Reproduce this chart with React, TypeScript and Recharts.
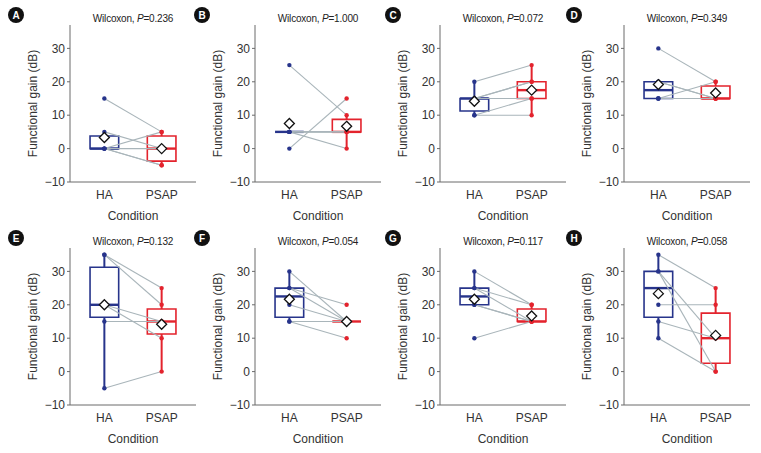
import React from 'react';
import { ComposedChart, Line, Scatter, XAxis, YAxis, ReferenceArea, ReferenceLine } from 'recharts';

const panelLetters = ['A', 'B', 'C', 'D', 'E', 'F', 'G', 'H'];
const pValues = ['0.236', '1.000', '0.072', '0.349', '0.132', '0.054', '0.117', '0.058'];
const categories = ['HA', 'PSAP'];
const yTicks = [-10, 0, 10, 20, 30];

// paired values, same index = same subject
const haValues = [
  [15, 5, 0, 0, 0, 0],
  [25, 0, 5, 5, 5, 5],
  [20, 15, 15, 15, 10, 10],
  [30, 20, 20, 15, 15, 15],
  [35, 35, 20, 20, 15, -5],
  [30, 25, 25, 20, 15, 15],
  [30, 25, 25, 20, 20, 10],
  [35, 30, 30, 20, 15, 10],
];
const psapValues = [
  [5, 0, 5, 0, -5, -5],
  [10, 15, 0, 5, 5, 5],
  [25, 20, 20, 15, 15, 10],
  [20, 15, 15, 20, 15, 15],
  [25, 20, 15, 10, 15, 0],
  [15, 20, 15, 15, 15, 10],
  [20, 20, 15, 15, 15, 15],
  [25, 0, 10, 20, 10, 0],
];

const HA_COLOR = '#27348b';
const PSAP_COLOR = '#e3232d';
const PAIR_COLOR = '#a9b5ba';
const AXIS_COLOR = '#6b6b6b';
const FONT = '"Liberation Sans", Arial, sans-serif';

const axisX = [70, 255, 440, 624];
const rowTop = [0, 223];
const letterX = [16, 202, 393, 574];

const quant = (s: number[], p: number) => {
  const pos = (s.length - 1) * p;
  const lo = Math.floor(pos);
  const hi = Math.min(lo + 1, s.length - 1);
  return s[lo] + (pos - lo) * (s[hi] - s[lo]);
};

function boxStats(vals: number[]) {
  const s = [...vals].sort((a, b) => a - b);
  const q1 = quant(s, 0.25);
  const med = quant(s, 0.5);
  const q3 = quant(s, 0.75);
  const iqr = q3 - q1;
  const lo = Math.min(...s.filter((v) => v >= q1 - 1.5 * iqr));
  const hi = Math.max(...s.filter((v) => v <= q3 + 1.5 * iqr));
  const mean = s.reduce((a, b) => a + b, 0) / s.length;
  return { q1, med, q3, lo, hi, mean };
}

const dotShape = (color: string) => (p: any) => <circle cx={p.cx} cy={p.cy} r={2.2} fill={color} />;
const diamondShape = (p: any) => (
  <polygon
    points={`${p.cx},${p.cy - 5} ${p.cx + 5},${p.cy} ${p.cx},${p.cy + 5} ${p.cx - 5},${p.cy}`}
    fill="#fff"
    stroke="#111"
    strokeWidth={1.3}
  />
);

const fmtY = (v: number) => (v < 0 ? '\u2212' + Math.abs(v) : String(v));

function boxParts(vals: number[], c: number, color: string, key: string) {
  const st = boxStats(vals);
  const out: React.ReactNode[] = [];
  if (st.q3 > st.q1) {
    out.push(
      <ReferenceArea key={key + 'box'} x1={c - 0.25} x2={c + 0.25} y1={st.q1} y2={st.q3}
        fill="none" fillOpacity={0} stroke={color} strokeWidth={1.6} strokeOpacity={1} />
    );
  }
  if (st.lo < st.q1) {
    out.push(
      <ReferenceLine key={key + 'wl'} segment={[{ x: c, y: st.lo }, { x: c, y: st.q1 }]} stroke={color} strokeWidth={2} />
    );
  }
  if (st.hi > st.q3) {
    out.push(
      <ReferenceLine key={key + 'wh'} segment={[{ x: c, y: st.q3 }, { x: c, y: st.hi }]} stroke={color} strokeWidth={2} />
    );
  }
  out.push(
    <ReferenceLine key={key + 'med'} segment={[{ x: c - 0.25, y: st.med }, { x: c + 0.25, y: st.med }]} stroke={color} strokeWidth={2.4} />
  );
  return { parts: out, mean: st.mean };
}

function Panel({ idx }: { idx: number }) {
  const col = idx % 4;
  const row = Math.floor(idx / 4);
  const ha = haValues[idx];
  const ps = psapValues[idx];
  const haBox = boxParts(ha, 1, HA_COLOR, 'ha');
  const psBox = boxParts(ps, 2, PSAP_COLOR, 'ps');
  const haPts = ha.map((y) => ({ x: 1, y }));
  const psPts = ps.map((y) => ({ x: 2, y }));
  const means = [{ x: 1, y: haBox.mean }, { x: 2, y: psBox.mean }];
  const left = axisX[col] - 70;
  const top = rowTop[row];
  return (
    <>
      <div style={{ position: 'absolute', left, top, width: 200, height: 226 }}>
        <ComposedChart width={200} height={226} data={[...haPts, ...psPts]} margin={{ top: 25, right: 4, bottom: 6, left: 0 }}>
          <XAxis dataKey="x" type="number" domain={[0.4, 2.6]} ticks={[1, 2]} allowDataOverflow
            tickFormatter={(v: number) => categories[v - 1]} tickLine={false}
            axisLine={{ stroke: AXIS_COLOR }} tick={{ fontSize: 12, fill: '#333', fontFamily: FONT }} height={38}
            label={{ value: 'Condition', position: 'insideBottom', offset: 0, fontSize: 12, fill: '#333', fontFamily: FONT }} />
          <YAxis type="number" domain={[-10, 37]} ticks={yTicks} allowDataOverflow width={70} tickSize={3}
            tickFormatter={fmtY} axisLine={{ stroke: AXIS_COLOR }} tickLine={{ stroke: AXIS_COLOR }}
            tick={{ fontSize: 12, fill: '#333', fontFamily: FONT }}
            label={{ value: 'Functional gain (dB)', angle: -90, position: 'center', dx: -2, fontSize: 12, fill: '#333', fontFamily: FONT }} />
          {haBox.parts}
          {psBox.parts}
          {ha.map((h, i) => (
            <Line key={'pair' + i} data={[{ x: 1, y: h }, { x: 2, y: ps[i] }]} dataKey="y" stroke={PAIR_COLOR}
              strokeWidth={1.1} dot={false} activeDot={false} isAnimationActive={false} />
          ))}
          <Scatter data={haPts} dataKey="y" shape={dotShape(HA_COLOR)} isAnimationActive={false} />
          <Scatter data={psPts} dataKey="y" shape={dotShape(PSAP_COLOR)} isAnimationActive={false} />
          <Scatter data={means} dataKey="y" shape={diamondShape} isAnimationActive={false} />
        </ComposedChart>
      </div>
      <div style={{ position: 'absolute', left: axisX[col], top: top + 13, width: 126, textAlign: 'center',
        fontSize: 10, fontFamily: FONT, color: '#222', letterSpacing: -0.2, whiteSpace: 'nowrap' }}>
        Wilcoxon, <i>P</i>=<span>{pValues[idx]}</span>
      </div>
      <div style={{ position: 'absolute', left: letterX[col] - 8, top: top + 7, width: 16, height: 16, borderRadius: 8,
        background: '#111', color: '#fff', fontSize: 10, fontWeight: 'bold', fontFamily: FONT,
        display: 'flex', alignItems: 'center', justifyContent: 'center' }}>
        {panelLetters[idx]}
      </div>
    </>
  );
}

export default function App() {
  return (
    <div style={{ position: 'absolute', left: 0, top: 0, width: 761, height: 453, background: '#fff', overflow: 'hidden' }}>
      {panelLetters.map((_, i) => (
        <Panel key={i} idx={i} />
      ))}
    </div>
  );
}
